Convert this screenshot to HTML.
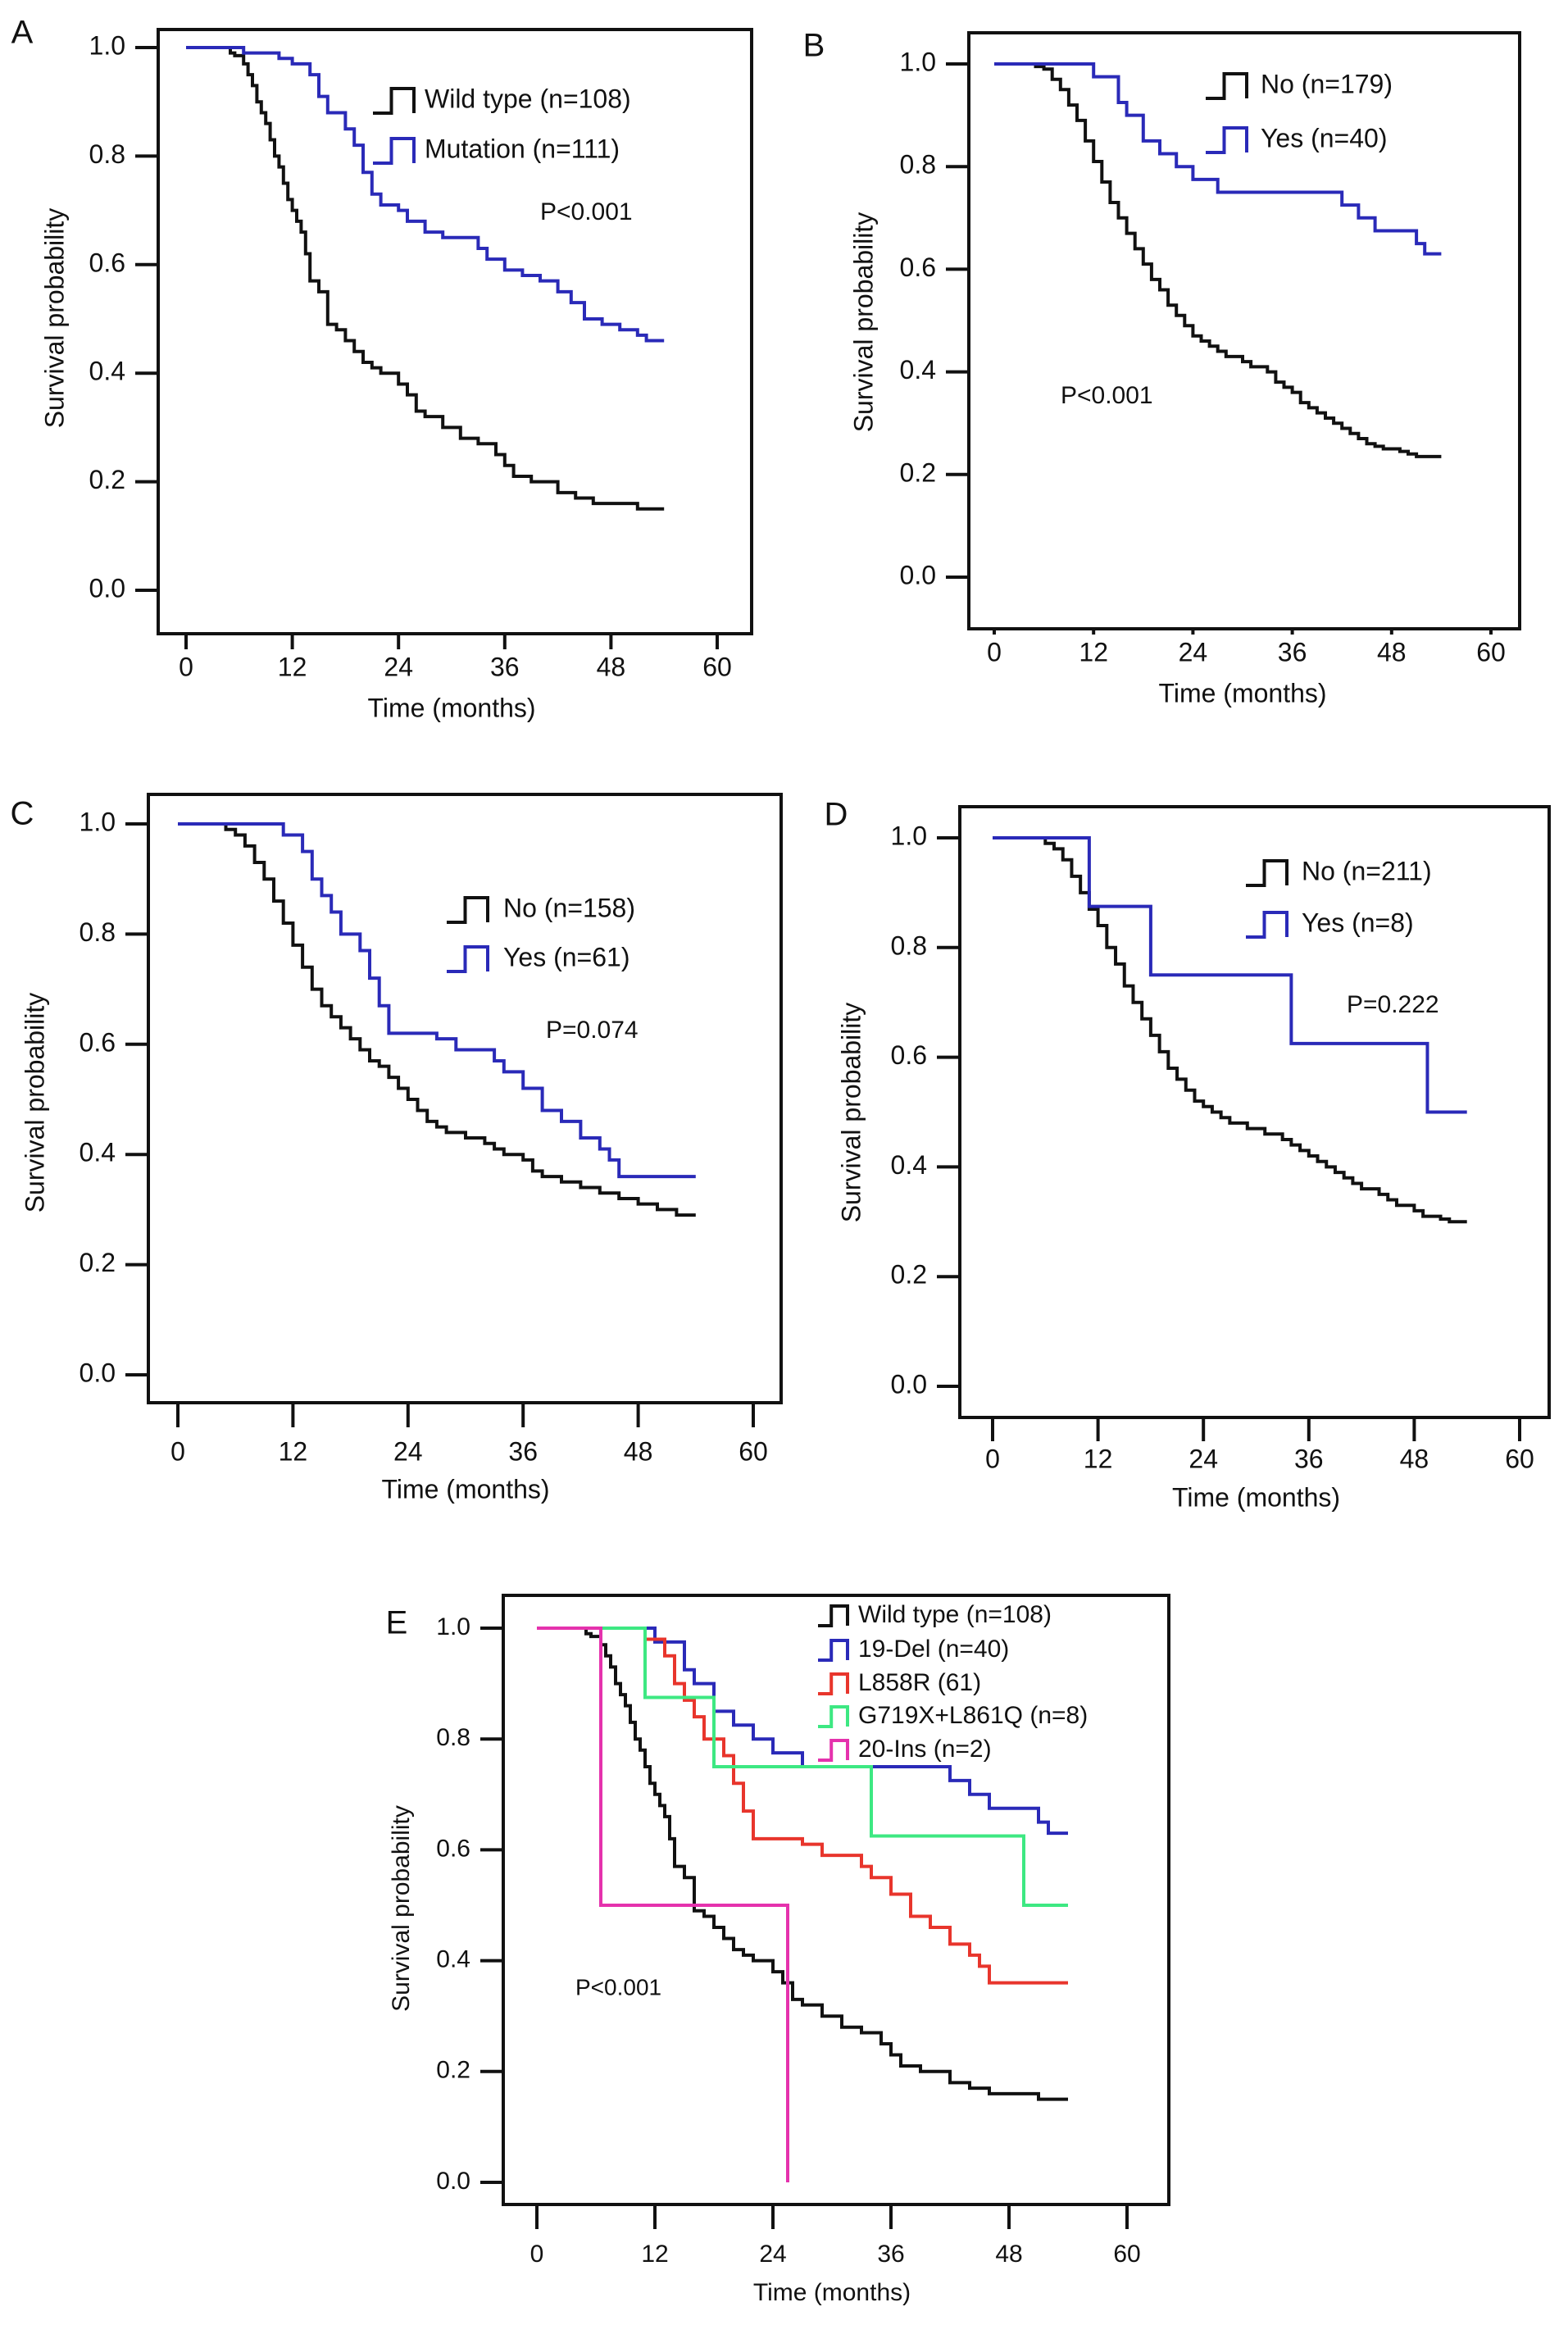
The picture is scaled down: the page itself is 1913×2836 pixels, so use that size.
<!DOCTYPE html>
<html><head><meta charset="utf-8"><style>
html,body{margin:0;padding:0;background:#fff;}
svg{display:block;font-family:"Liberation Sans",Arial,sans-serif;}
</style></head><body>
<svg id="fig" width="1913" height="2836" viewBox="0 0 1913 2836" xmlns="http://www.w3.org/2000/svg"></svg>
<script>
// ---- data (months, survival probability) ----
const xTicks = [0, 12, 24, 36, 48, 60];
const yTicks = [0.0, 0.2, 0.4, 0.6, 0.8, 1.0];
const wildT = [0,5,5.5,6.5,7,7.5,8,8.5,9,9.5,10,10.5,11,11.5,12,12.5,13,13.5,14,15,16,17,18,19,20,21,22,24,25,26,27,29,31,33,35,36,37,39,42,44,46,51,54];
const wildS = [1,0.99,0.985,0.97,0.95,0.93,0.90,0.88,0.86,0.83,0.80,0.78,0.75,0.72,0.70,0.68,0.66,0.62,0.57,0.55,0.49,0.48,0.46,0.44,0.42,0.41,0.40,0.38,0.36,0.33,0.32,0.30,0.28,0.27,0.25,0.23,0.21,0.20,0.18,0.17,0.16,0.15,0.15];
const mutT = [0,6.5,10.5,12,14,15,16,18,19,20,21,22,24,25,27,29,33,34,36,38,40,42,43.5,45,47,49,51,52,54];
const mutS = [1,0.99,0.98,0.97,0.95,0.91,0.88,0.85,0.82,0.77,0.73,0.71,0.70,0.68,0.66,0.65,0.63,0.61,0.59,0.58,0.57,0.55,0.53,0.50,0.49,0.48,0.47,0.46,0.46];
const bNoT = [0,5,6,7,8,9,10,11,12,13,14,15,16,17,18,19,20,21,22,23,24,25,26,27,28,30,31,33,34,35,36,37,38,39,40,41,42,43,44,45,46,47,49,50,51,54];
const bNoS = [1,0.995,0.99,0.97,0.95,0.92,0.89,0.85,0.81,0.77,0.73,0.70,0.67,0.64,0.61,0.58,0.56,0.53,0.51,0.49,0.47,0.46,0.45,0.44,0.43,0.42,0.41,0.40,0.38,0.37,0.36,0.34,0.33,0.32,0.31,0.30,0.29,0.28,0.27,0.26,0.255,0.25,0.245,0.24,0.235,0.235];
const delT = [0,12,15,16,18,20,22,24,27,42,44,46,51,52,54];
const delS = [1,0.975,0.925,0.90,0.85,0.825,0.80,0.775,0.75,0.725,0.70,0.675,0.65,0.63,0.63];
const cNoT = [0,5,6,7,8,9,10,11,12,13,14,15,16,17,18,19,20,21,22,23,24,25,26,27,28,30,32,33,34,36,37,38,40,42,44,46,48,50,52,54];
const cNoS = [1,0.99,0.98,0.96,0.93,0.90,0.86,0.82,0.78,0.74,0.70,0.67,0.65,0.63,0.61,0.59,0.57,0.56,0.54,0.52,0.50,0.48,0.46,0.45,0.44,0.43,0.42,0.41,0.40,0.39,0.37,0.36,0.35,0.34,0.33,0.32,0.31,0.30,0.29,0.29];
const l858T = [0,11,13,14,15,16,17,19,20,21,22,27,29,33,34,36,38,40,42,44,45,46,54];
const l858S = [1,0.98,0.95,0.90,0.87,0.84,0.80,0.77,0.72,0.67,0.62,0.61,0.59,0.57,0.55,0.52,0.48,0.46,0.43,0.41,0.39,0.36,0.36];
const dNoT = [0,6,7,8,9,10,11,12,13,14,15,16,17,18,19,20,21,22,23,24,25,26,27,29,31,33,34,35,36,37,38,39,40,41,42,44,45,46,48,49,51,52,54];
const dNoS = [1,0.99,0.98,0.96,0.93,0.90,0.87,0.84,0.80,0.77,0.73,0.70,0.67,0.64,0.61,0.58,0.56,0.54,0.52,0.51,0.50,0.49,0.48,0.47,0.46,0.45,0.44,0.43,0.42,0.41,0.40,0.39,0.38,0.37,0.36,0.35,0.34,0.33,0.32,0.31,0.305,0.30,0.30];
const gT = [0,11,18,34,49.5,54];
const gS = [1,0.875,0.75,0.625,0.5,0.5];
const insT = [0,6.5,25.5,25.5];
const insS = [1,0.5,0.0,0.0];

const BLACK='#111', BLUE='#2a2ab8', RED='#e8352c', GREEN='#3de882', MAG='#e532ad';
const NS='http://www.w3.org/2000/svg';
const svg=document.getElementById('fig');
function mk(tag,attrs,parent){const e=document.createElementNS(NS,tag);for(const k in attrs)e.setAttribute(k,attrs[k]);(parent||svg).appendChild(e);return e;}

const panels=[
 {id:'a',letter:'A',lx:27,ly:42,box:[193,36,917,773],x0:227,x60:875,y1:58,y0:720,tickY:816,titleY:866,ytx:69,yty:388,
  series:[[wildT,wildS,BLACK,'wild-type'],[mutT,mutS,BLUE,'mutation']],
  legend:{sx:455,tx:518,ys:[123,184],items:[['Wild type (n=108)',BLACK],['Mutation (n=111)',BLUE]]},p:['P<0.001',659,260]},
 {id:'b',letter:'B',lx:993,ly:58,box:[1182,40,1854,767],x0:1213,x60:1819,y1:78,y0:704,tickY:798,titleY:848,ytx:1056,yty:393,
  series:[[bNoT,bNoS,BLACK,'no'],[delT,delS,BLUE,'yes']],
  legend:{sx:1471,tx:1538,ys:[105,171],items:[['No (n=179)',BLACK],['Yes (n=40)',BLUE]]},p:['P<0.001',1294,484]},
 {id:'c',letter:'C',lx:27,ly:995,box:[181,969,953,1711],x0:217,x60:919,y1:1005,y0:1677,tickY:1773,titleY:1819,ytx:45,yty:1345,
  series:[[cNoT,cNoS,BLACK,'no'],[l858T,l858S,BLUE,'yes']],
  legend:{sx:545,tx:614,ys:[1110,1170],items:[['No (n=158)',BLACK],['Yes (n=61)',BLUE]]},p:['P=0.074',666,1258]},
 {id:'d',letter:'D',lx:1020,ly:996,box:[1171,984,1890,1729],x0:1211,x60:1854,y1:1022,y0:1691,tickY:1782,titleY:1829,ytx:1041,yty:1357,
  series:[[dNoT,dNoS,BLACK,'no'],[gT,gS,BLUE,'yes']],
  legend:{sx:1520,tx:1588,ys:[1065,1128],items:[['No  (n=211)',BLACK],['Yes (n=8)',BLUE]]},p:['P=0.222',1643,1227]},
 {id:'e',letter:'E',lx:484,ly:1982,box:[614,1946,1426,2689],x0:655,x60:1375,y1:1986,y0:2662,tickY:2751,titleY:2798,ytx:491,yty:2328,
  series:[[wildT,wildS,BLACK,'wild-type'],[delT,delS,BLUE,'19-del'],[l858T,l858S,RED,'l858r'],[gT,gS,GREEN,'g719x-l861q'],[insT,insS,MAG,'20-ins']],
  legend:{sx:998,tx:1047,ys:[1971,2013,2054,2094,2135],items:[['Wild type (n=108)',BLACK],['19-Del (n=40)',BLUE],['L858R (61)',RED],['G719X+L861Q (n=8)',GREEN],['20-Ins (n=2)',MAG]]},p:['P<0.001',702,2426]}
];

panels.forEach(P=>{
  const g=mk('g',{});
  
  
  const X=t=>P.x0+(P.x60-P.x0)*t/60;
  const Y=s=>P.y0+(P.y1-P.y0)*s;
  const [bl,bt,br,bb]=P.box;
  const fs=P.id==='e'?30:32;
  const tlen=Math.min(30,P.tickY-bb-24);
  const lt=mk('text',{x:P.lx,y:P.ly,'font-size':40,'text-anchor':'middle','dominant-baseline':'middle',fill:'#111'},g);
  lt.textContent=P.letter;
  
  
  const box=mk('rect',{x:bl,y:bt,width:br-bl,height:bb-bt,fill:'none',stroke:'#111','stroke-width':4},g);
  
  
  xTicks.forEach(t=>{
    const tk=mk('line',{x1:X(t),x2:X(t),y1:bb,y2:bb+tlen,stroke:'#111','stroke-width':4},g);
    
    
    const tl=mk('text',{x:X(t),y:P.tickY,'font-size':fs,'text-anchor':'middle','dominant-baseline':'middle',fill:'#111'},g);
    tl.textContent=t;
    
    
  });
  yTicks.forEach(v=>{
    const tk=mk('line',{x1:bl-28,x2:bl,y1:Y(v),y2:Y(v),stroke:'#111','stroke-width':4},g);
    
    
    const tl=mk('text',{x:bl-40,y:Y(v),'font-size':fs,'text-anchor':'end','dominant-baseline':'middle',fill:'#111'},g);
    tl.textContent=v.toFixed(1);
    
    
  });
  const xt=mk('text',{x:(X(0)+X(60))/2,y:P.titleY,'font-size':fs,'text-anchor':'middle','dominant-baseline':'middle',fill:'#111'},g);
  xt.textContent='Time (months)';
  
  
  const yt=mk('text',{x:P.ytx,y:P.yty,'font-size':fs,'text-anchor':'middle','dominant-baseline':'middle',fill:'#111',transform:`rotate(-90 ${P.ytx} ${P.yty})`},g);
  yt.textContent='Survival probability';
  
  
  P.series.forEach(([T,S,col,nm])=>{
    let d=`M${X(T[0])},${Y(S[0])}`;
    for(let i=1;i<T.length;i++){d+=` H${X(T[i])} V${Y(S[i])}`;}
    const pth=mk('path',{d:d,fill:'none',stroke:col,'stroke-width':4},g);
    
    
  });
  const L=P.legend;
  const sw=P.id==='e'?36:50, sh=P.id==='e'?24:30;
  L.items.forEach(([txt,col],i)=>{
    const y=L.ys[i];
    const sym=mk('path',{d:`M${L.sx},${y+sh/2} H${L.sx+sw*0.45} V${y-sh/2} H${L.sx+sw} V${y+sh/2}`,fill:'none',stroke:col,'stroke-width':4},g);
    
    
    const lt2=mk('text',{x:L.tx,y:y,'font-size':fs,'dominant-baseline':'middle',fill:'#111'},g);
    lt2.textContent=txt;
    
    
  });
  const pt=mk('text',{x:P.p[1],y:P.p[2],'font-size':fs-2,'dominant-baseline':'middle',fill:'#111'},g);
  pt.textContent=P.p[0];
  
  
});
</script>
</body></html>
